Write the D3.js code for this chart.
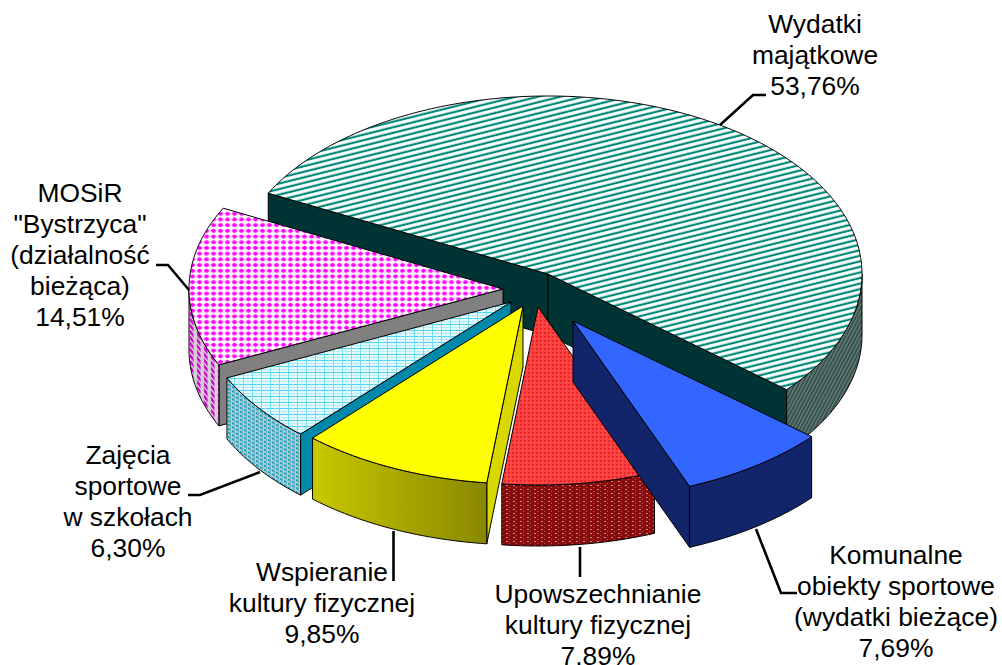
<!DOCTYPE html>
<html>
<head>
<meta charset="utf-8">
<script src="https://cdnjs.cloudflare.com/ajax/libs/d3/7.8.5/d3.min.js"></script>
<style>
html, body { margin: 0; padding: 0; background: #fff; overflow: hidden; }
svg { display: block; }
text { font-family: "Liberation Sans", Arial, sans-serif; font-size: 26.4px; fill: #000; text-anchor: middle; }
</style>
</head>
<body>
<svg id="chart" width="1002" height="665"></svg>
<script>
(function() {
    'use strict';

    // Data, clockwise from the back left edge of the big slice
    var labels = [
        ["Wydatki", "majątkowe"],
        ["Komunalne", "obiekty sportowe", "(wydatki bieżące)"],
        ["Upowszechnianie", "kultury fizycznej"],
        ["Wspieranie", "kultury fizycznej"],
        ["Zajęcia", "sportowe", "w szkołach"],
        ["MOSiR", "\"Bystrzyca\"", "(działalność", "bieżąca)"]
    ];
    var values = [53.76, 7.69, 7.89, 9.85, 6.30, 14.51];

    // Layout
    var rx = 314, ry = 178, depth = 61;
    var startDeg = -63;
    var centers = [[548, 274], [573, 321], [538, 307], [523, 306], [511, 302], [503, 289]];
    var labelPos = [[815, 33], [896, 564], [598, 603], [322, 581], [128, 464], [80, 202]];
    var lineHeight = 31;
    var leaders = [
        [[720, 125], [753, 95], [766, 95]],
        [[756, 529], [781, 593], [797, 593]],
        [[580, 547], [580, 577]],
        [[393.5, 531], [393.5, 581]],
        [[260, 472], [200, 495], [188, 495]],
        [[189, 290], [168, 265], [156, 265]]
    ];
    var drawOrder = [0, 5, 4, 3, 2, 1];

    var topFills = ["url(#mainTop)", "#3366ff", "url(#redTop)", "#ffff00", "url(#zajTop)", "url(#mosTop)"];
    var rimFills = ["url(#mainRim)", "#12246a", "url(#redRim)", "url(#yellowRim)", "url(#zajRim)", "url(#mosRim)"];
    var wallFills = ["#003333", "#12246a", "#8b0a0a", "#d8d800", "#0088aa", "#808080"];

    var svg = d3.select("#chart");
    var defs = svg.append("defs");

    function pattern(id, w, h, transform, bg) {
        var p = defs.append("pattern")
            .attr("id", id)
            .attr("patternUnits", "userSpaceOnUse")
            .attr("width", w)
            .attr("height", h);
        if (transform) p.attr("patternTransform", transform);
        p.append("rect").attr("width", w).attr("height", h).attr("fill", bg);
        return p;
    }

    // Big slice: diagonal stripes
    pattern("mainTop", 12, 5.4, "rotate(-14)", "#ffffff")
        .append("rect").attr("y", 1.5).attr("width", 12).attr("height", 2.2).attr("fill", "#008878");
    pattern("mainRim", 3.2, 8, "rotate(28)", "#35524f")
        .append("rect").attr("width", 1.2).attr("height", 8).attr("fill", "#6c807c");

    // MOSiR: magenta dots
    var mt = pattern("mosTop", 7, 5.7, null, "#ffffff");
    mt.append("rect").attr("y", 2.2).attr("width", 7).attr("height", 1.3).attr("fill", "#ffc0ff");
    mt.append("rect").attr("x", 3).attr("width", 1).attr("height", 5.7).attr("fill", "#ffd8ff");
    mt.append("ellipse").attr("cx", 3.5).attr("cy", 2.85).attr("rx", 2.4).attr("ry", 1.9).attr("fill", "#ff00ff");
    pattern("mosRim", 7, 6, "skewY(50)", "#d6cfd6")
        .append("rect").attr("x", 1).attr("y", 1).attr("width", 3.6).attr("height", 4).attr("fill", "#cc10cc");

    // Zajecia: pale blue grid
    var zt = pattern("zajTop", 9, 6, null, "#e8fafd");
    zt.append("rect").attr("width", 9).attr("height", 0.9).attr("fill", "#30cff0");
    zt.append("rect").attr("y", 3).attr("width", 9).attr("height", 0.7).attr("fill", "#a0e8f6");
    zt.append("rect").attr("width", 1).attr("height", 6).attr("fill", "#70dcf2");
    zt.append("rect").attr("x", 4.5).attr("width", 0.8).attr("height", 6).attr("fill", "#b8eef8");
    var zr = pattern("zajRim", 4, 4, "skewY(30)", "#c4cccc");
    zr.append("rect").attr("width", 2).attr("height", 2).attr("fill", "#109cc0");
    zr.append("rect").attr("x", 2).attr("width", 1).attr("height", 4).attr("fill", "#4ab0c8");

    // Upowszechnianie: fine red weave
    var rt = pattern("redTop", 4, 4, null, "#ff4040");
    rt.append("rect").attr("width", 2).attr("height", 2).attr("fill", "#ee2626");
    rt.append("rect").attr("x", 2).attr("y", 2).attr("width", 1).attr("height", 1).attr("fill", "#ff6a6a");
    var rr = pattern("redRim", 7, 4, null, "#8b0a0a");
    rr.append("rect").attr("x", 2).attr("y", 1).attr("width", 2).attr("height", 1).attr("fill", "#b89090");
    rr.append("rect").attr("x", 5).attr("y", 3).attr("width", 1).attr("height", 1).attr("fill", "#a86060");

    var yg = defs.append("linearGradient")
        .attr("id", "yellowRim")
        .attr("gradientUnits", "objectBoundingBox");
    yg.append("stop").attr("offset", 0).attr("stop-color", "#c8c800");
    yg.append("stop").attr("offset", 1).attr("stop-color", "#888800");

    // Scales for the flattened circle
    var xUnit = d3.scaleLinear().domain([-1, 1]).range([-rx, rx]);
    var yUnit = d3.scaleLinear().domain([-1, 1]).range([-ry, ry]);
    var line = d3.line();

    function rimPoint(c, a) {
        return [c[0] + xUnit(Math.sin(a)), c[1] + yUnit(-Math.cos(a))];
    }
    function down(p) {
        return [p[0], p[1] + depth];
    }
    function arcPoints(c, a0, a1) {
        var n = Math.max(2, Math.ceil(Math.abs(a1 - a0) / 0.01));
        return d3.range(n + 1).map(function(i) {
            return rimPoint(c, a0 + (a1 - a0) * i / n);
        });
    }

    var toRad = Math.PI / 180;
    var pie = d3.pie()
        .sort(null)
        .startAngle(startDeg * toRad)
        .endAngle(startDeg * toRad + 2 * Math.PI);
    var slices = pie(values);

    // Radial wall shows only when the slice lies on the far side of its edge
    function wallVisible(c, edge, mid) {
        var p = rimPoint(c, edge), m = rimPoint(c, mid);
        var dx = p[0] - c[0], dy = p[1] - c[1];
        var inner = dx * (m[1] - c[1]) - dy * (m[0] - c[0]);
        return inner * dx < 0;
    }

    var faces = svg.append("g")
        .attr("stroke", "#000")
        .attr("stroke-width", 1)
        .attr("stroke-linejoin", "round");

    drawOrder.forEach(function(i) {
        var s = slices[i], c = centers[i];
        var mid = (s.startAngle + s.endAngle) / 2;

        [s.startAngle, s.endAngle].forEach(function(edge) {
            if (!wallVisible(c, edge, mid)) return;
            var p = rimPoint(c, edge);
            faces.append("path")
                .attr("d", line([c, p, down(p), down(c)]) + "Z")
                .attr("fill", wallFills[i]);
        });

        // Outer wall, front half of the circle only
        var a0 = Math.max(s.startAngle, Math.PI / 2);
        var a1 = Math.min(s.endAngle, 3 * Math.PI / 2);
        if (a1 > a0) {
            var upper = arcPoints(c, a0, a1);
            var lower = upper.map(down).reverse();
            faces.append("path")
                .attr("d", line(upper.concat(lower)) + "Z")
                .attr("fill", rimFills[i]);
        }

        faces.append("path")
            .attr("d", line([c].concat(arcPoints(c, s.startAngle, s.endAngle))) + "Z")
            .attr("fill", topFills[i]);
    });

    // Leader lines
    svg.append("g").selectAll("path")
        .data(leaders)
        .enter().append("path")
        .attr("d", function(d) { return line(d); })
        .attr("fill", "none")
        .attr("stroke", "#000")
        .attr("stroke-width", 2.6);

    // Labels
    var labelG = svg.append("g");
    labels.forEach(function(rows, i) {
        var text = labelG.append("text");
        rows.concat(values[i].toFixed(2).replace(".", ",") + "%").forEach(function(row, j) {
            text.append("tspan")
                .attr("x", labelPos[i][0])
                .attr("y", labelPos[i][1] + j * lineHeight)
                .text(row);
        });
    });
})();
</script>
</body>
</html>
